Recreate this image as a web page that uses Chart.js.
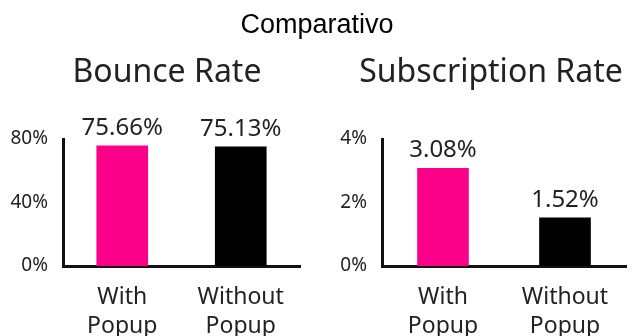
<!DOCTYPE html>
<html>
<head>
<meta charset="utf-8">
<script src="https://cdn.jsdelivr.net/npm/chart.js@4.4.0/dist/chart.umd.min.js"></script>
<style>
  body { margin: 0; background: #fff; }
  #wrap { position: relative; width: 634px; height: 336px; overflow: hidden; }
  #heading { position: absolute; top: 11px; left: 0; width: 634px; text-align: center;
    font: 27px/27px "Liberation Sans", Arial, sans-serif; color: #000; }
  .sub { position: absolute; top: 54px; white-space: nowrap; transform: translateX(-50%);
    font: 32px/32px "Noto Sans", sans-serif; color: #222; }
  canvas { position: absolute; top: 0; }
</style>
</head>
<body>
<div id="wrap">
  <canvas id="bounceChart" width="317" height="336" style="left:0"></canvas>
  <canvas id="subChart" width="317" height="336" style="left:317px"></canvas>
  <div id="heading">Comparativo</div>
  <div class="sub" style="left:167px">Bounce Rate</div>
  <div class="sub" style="left:491px">Subscription Rate</div>
</div>
<script>
// Chart data
const categories = [["With", "Popup"], ["Without", "Popup"]];
const bounceRate = [75.66, 75.13];
const subscriptionRate = [3.08, 1.52];
const bounceTicks = [0, 40, 80];
const subscriptionTicks = [0, 2, 4];
const barColors = ["#fa0088", "#000000"];

const FONT = '"Noto Sans", sans-serif';
const TEXT = "#222";

// Draws the value above every bar
const valueLabels = {
  id: "valueLabels",
  afterDatasetsDraw(chart) {
    const ctx = chart.ctx;
    const meta = chart.getDatasetMeta(0);
    ctx.save();
    ctx.font = "24px " + FONT;
    ctx.fillStyle = TEXT;
    ctx.textAlign = "center";
    ctx.textBaseline = "alphabetic";
    meta.data.forEach((bar, i) => {
      const v = chart.data.datasets[0].data[i];
      ctx.fillText(v.toFixed(2) + "%", bar.x, bar.y - 11);
    });
    ctx.restore();
  }
};

function makeChart(id, values, ticks, rightPad, axisWidth) {
  const max = ticks[ticks.length - 1];
  return new Chart(document.getElementById(id), {
    type: "bar",
    data: {
      labels: categories,
      datasets: [{
        data: values,
        backgroundColor: barColors,
        borderWidth: 0,
        barThickness: 51
      }]
    },
    options: {
      responsive: false,
      animation: false,
      layout: { padding: { top: 139, right: rightPad, left: 0, bottom: 0 } },
      plugins: {
        legend: { display: false },
        tooltip: { enabled: false }
      },
      scales: {
        x: {
          grid: { display: false, drawTicks: false },
          border: { display: true, color: "#111", width: 3 },
          ticks: {
            color: TEXT,
            font: { family: FONT, size: 23, lineHeight: 1.26 },
            padding: 17,
            maxRotation: 0
          },
          afterFit: (s) => { s.height = 70; }
        },
        y: {
          min: 0,
          max: max,
          grid: { display: false, drawTicks: false },
          border: { display: true, color: "#111", width: 3 },
          ticks: {
            color: TEXT,
            font: { family: FONT, size: 19 },
            padding: 15,
            callback: (v) => v + "%"
          },
          afterBuildTicks: (s) => { s.ticks = ticks.map((v) => ({ value: v })); },
          afterFit: (s) => { s.width = axisWidth; }
        }
      }
    },
    plugins: [valueLabels]
  });
}

makeChart("bounceChart", bounceRate, bounceTicks, 17, 63);
makeChart("subChart", subscriptionRate, subscriptionTicks, 8, 65);
</script>
</body>
</html>
